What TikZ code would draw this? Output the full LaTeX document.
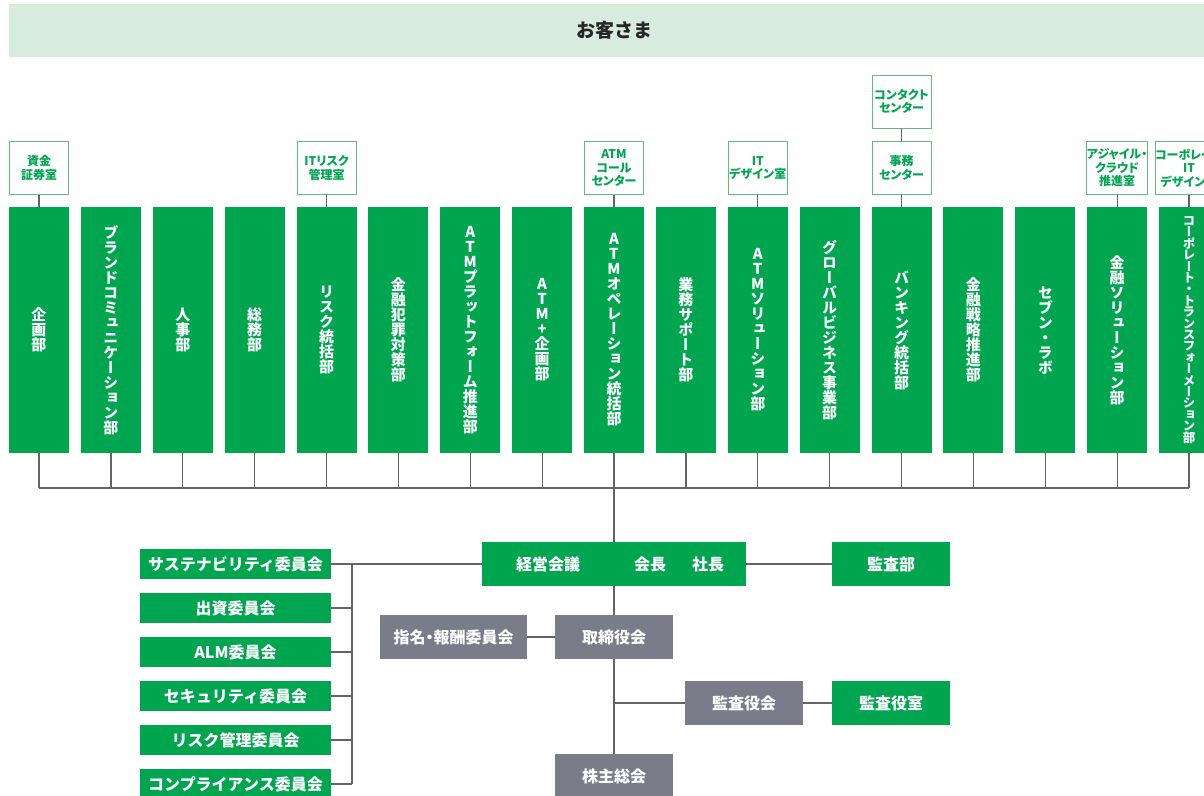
\documentclass[tikz,border=0pt]{standalone}
\usepackage{fontspec}
\setmainfont{Noto Sans CJK JP}
\newfontfamily\tatefont{Noto Sans CJK JP}[RawFeature=+vert]
\newfontfamily\paltfont{Noto Sans CJK JP}[RawFeature=+palt]

\definecolor{sevengreen}{RGB}{0,165,80}
\definecolor{boardgray}{RGB}{122,125,137}
\definecolor{bandgreen}{RGB}{215,236,222}
\definecolor{wiregray}{RGB}{100,100,100}
\definecolor{framegreen}{RGB}{96,188,126}

% stack the characters of #2 one under the other, #1 apart
\ExplSyntaxOn
\NewDocumentCommand\tate{O{15pt}m}
  {
    \vbox
      {
        \baselineskip=#1 \lineskiplimit=-\maxdimen \lineskip=0pt
        \tl_map_inline:nn {#2} { \hbox to 1.2em { \hss ##1 \hss } }
      }
  }
\ExplSyntaxOff

\begin{document}
\begin{tikzpicture}[x=1pt,y=-1pt]
  \tikzstyle{every node}=[inner sep=0pt, font=\bfseries]
  \tikzstyle{dept}=[fill=sevengreen, text=white, minimum width=60pt, minimum height=246pt, font=\tatefont\bfseries\fontsize{15}{15}\selectfont]
  \tikzstyle{office}=[draw=framegreen, line width=0.9pt, fill=white, text=sevengreen, minimum width=59pt, minimum height=53pt, align=center, font=\paltfont\bfseries\fontsize{12}{13.5}\selectfont]
  \tikzstyle{cmte}=[fill=sevengreen, text=white, minimum width=191pt, minimum height=30pt, font=\bfseries\fontsize{16}{16}\selectfont]
  \tikzstyle{greenbox}=[fill=sevengreen, text=white, minimum width=118pt, minimum height=44pt, font=\bfseries\fontsize{16}{16}\selectfont]
  \tikzstyle{board}=[greenbox, fill=boardgray]
  \tikzstyle{wire}=[draw=wiregray, line width=1.2pt]

  \useasboundingbox (0,0) rectangle (1204,795);
  \fill[white] (0,0) rectangle (1204,795);
  \clip (0,0) rectangle (1204,795);

  %Top band: customers
  \node[fill=bandgreen, minimum width=1210pt, minimum height=53pt, font=\bfseries\fontsize{19}{19}\selectfont, text=black!85] (kyaku) at (614,30.5) {お客さま};

  %Departments, one column each
  \node[dept] (c1) at (39,330) {\tate{企画部}};
  \node[dept] (c2) at (110.9,330) {\tate{ブランドコミュニケーション部}};
  \node[dept] (c3) at (182.75,330) {\tate{人事部}};
  \node[dept] (c4) at (254.6,330) {\tate{総務部}};
  \node[dept] (c5) at (326.5,330) {\tate{リスク統括部}};
  \node[dept] (c6) at (398.4,330) {\tate{金融犯罪対策部}};
  \node[dept] (c7) at (470.25,330) {\tate{ATMプラットフォーム推進部}};
  \node[dept] (c8) at (542.1,330) {\tate{ATM+企画部}};
  \node[dept] (c9) at (614,330) {\tate{ATMオペレーション統括部}};
  \node[dept] (c10) at (685.9,330) {\tate{業務サポート部}};
  \node[dept] (c11) at (757.75,330) {\tate{ATMソリューション部}};
  \node[dept] (c12) at (829.6,330) {\tate{グローバルビジネス事業部}};
  \node[dept] (c13) at (901.5,330) {\tate{バンキング統括部}};
  \node[dept] (c14) at (973.4,330) {\tate{金融戦略推進部}};
  \node[dept] (c15) at (1045.25,330) {\tate{セブン・ラボ}};
  \node[dept] (c16) at (1117.1,330) {\tate{金融ソリューション部}};
  \node[dept, font=\tatefont\bfseries\fontsize{12.5}{12.5}\selectfont] (c17) at (1189,330) {\tate[11.4pt]{コーポレート・トランスフォーメーション部}};

  %Offices above their department
  \node[office] (o1) at (39,168) {資金\\証券室};
  \node[office] (o5) at (326.5,168) {ITリスク\\管理室};
  \node[office] (o9) at (614,168) {ATM\\コール\\センター};
  \node[office] (o11) at (757.75,168) {IT\\デザイン室};
  \node[office] (o13) at (901.5,168) {事務\\センター};
  \node[office] (o13b) at (901.5,101.5) {コンタクト\\センター};
  \node[office] (o16) at (1117.1,168) {アジャイル・\\クラウド\\推進室};
  \node[office] (o17) at (1189,168) {コーポレート\\IT\\デザイン室};
  \draw[wire] (o1) -- (c1);
  \draw[wire] (o5) -- (c5);
  \draw[wire] (o9) -- (c9);
  \draw[wire] (o11) -- (c11);
  \draw[wire] (o13b) -- (o13);
  \draw[wire] (o13) -- (c13);
  \draw[wire] (o16) -- (c16);
  \draw[wire] (o17) -- (c17);

  %Bus under the departments
  \coordinate (bus) at (0,488);
  \draw[wire] (c1.south) -- (c1.south |- bus);
  \draw[wire] (c2.south) -- (c2.south |- bus);
  \draw[wire] (c3.south) -- (c3.south |- bus);
  \draw[wire] (c4.south) -- (c4.south |- bus);
  \draw[wire] (c5.south) -- (c5.south |- bus);
  \draw[wire] (c6.south) -- (c6.south |- bus);
  \draw[wire] (c7.south) -- (c7.south |- bus);
  \draw[wire] (c8.south) -- (c8.south |- bus);
  \draw[wire] (c9.south) -- (c9.south |- bus);
  \draw[wire] (c10.south) -- (c10.south |- bus);
  \draw[wire] (c11.south) -- (c11.south |- bus);
  \draw[wire] (c12.south) -- (c12.south |- bus);
  \draw[wire] (c13.south) -- (c13.south |- bus);
  \draw[wire] (c14.south) -- (c14.south |- bus);
  \draw[wire] (c15.south) -- (c15.south |- bus);
  \draw[wire] (c16.south) -- (c16.south |- bus);
  \draw[wire] (c17.south) -- (c17.south |- bus);
  \draw[wire] (c1.south |- bus) -- (c17.south |- bus);

  %Management and board
  \node[greenbox, minimum width=264pt] (keiei) at (614,564) {\hspace*{12pt}経営会議\hspace{54pt}会長\hspace{26pt}社長};
  \draw[wire] (keiei.north) -- (keiei.north |- bus);
  \node[greenbox] (kansabu) at (891,564) {監査部};
  \draw[wire] (keiei) -- (kansabu);
  \node[board] (torishimari) at (614,637) {取締役会};
  \draw[wire] (keiei) -- (torishimari);
  \node[board, minimum width=147pt, font=\paltfont\bfseries\fontsize{16}{16}\selectfont] (shimei) at (453.5,637) {指名・報酬委員会};
  \draw[wire] (shimei) -- (torishimari);
  \node[board] (kansayaku) at (744,703) {監査役会};
  \node[greenbox] (kansashitsu) at (891,703) {監査役室};
  \draw[wire] (kansayaku.west) -- (kansayaku.west -| torishimari.south);
  \draw[wire] (kansayaku) -- (kansashitsu);
  \node[board] (kabunushi) at (614,776) {株主総会};
  \draw[wire] (torishimari) -- (kabunushi);

  %Committees on the left
  \node[cmte] (i1) at (235.5,564) {サステナビリティ委員会};
  \node[cmte] (i2) at (235.5,608) {出資委員会};
  \node[cmte] (i3) at (235.5,652) {ALM委員会};
  \node[cmte] (i4) at (235.5,696) {セキュリティ委員会};
  \node[cmte] (i5) at (235.5,740) {リスク管理委員会};
  \node[cmte] (i6) at (235.5,784) {コンプライアンス委員会};
  \coordinate (hub) at (352,0);
  \draw[wire] (i1.east) -- (keiei.west);
  \draw[wire] (i1.east -| hub) -- (i6.east -| hub);
  \draw[wire] (i2.east) -- (i2.east -| hub);
  \draw[wire] (i3.east) -- (i3.east -| hub);
  \draw[wire] (i4.east) -- (i4.east -| hub);
  \draw[wire] (i5.east) -- (i5.east -| hub);
  \draw[wire] (i6.east) -- (i6.east -| hub);
\end{tikzpicture}
\end{document}
